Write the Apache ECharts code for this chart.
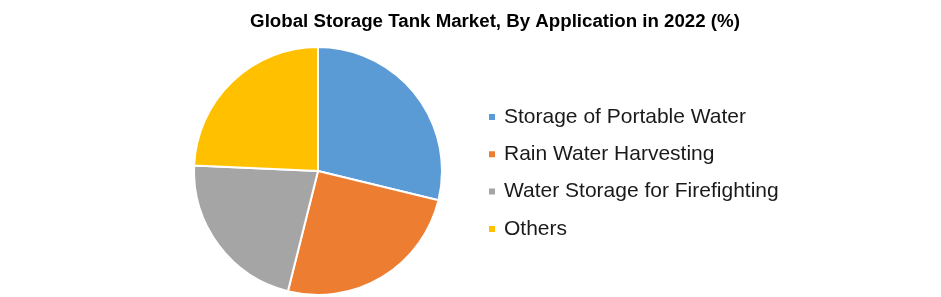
<!DOCTYPE html>
<html><head><meta charset="utf-8">
<script src="https://cdn.jsdelivr.net/npm/echarts@6/dist/echarts.min.js"></script>
<style>html,body{margin:0;padding:0;background:#fff}#c{width:941px;height:297px}</style>
</head><body><div id="c"></div>
<script>
const categories = ["Storage of Portable Water", "Rain Water Harvesting", "Water Storage for Firefighting", "Others"];
const values = [28.8, 25.1, 21.8, 24.3];
const colors = ["#5B9BD5", "#ED7D31", "#A5A5A5", "#FFC000"];
const titleText = "Global Storage Tank Market, By Application in 2022 (%)";

const chart = echarts.init(document.getElementById('c'), null, {renderer: 'canvas'});
chart.setOption({
  animation: false,
  backgroundColor: '#fff',
  title: {
    text: titleText,
    left: 490, textAlign: 'center', top: 7,
    textStyle: {fontFamily: '"Liberation Sans", Arial, sans-serif', fontWeight: 'bold', fontSize: 18.7, color: '#000'}
  },
  legend: {
    orient: 'vertical', left: 482, top: 100,
    itemWidth: 8, itemHeight: 8, itemGap: 13.3, icon: 'rect',
    textStyle: {fontFamily: '"Liberation Sans", Arial, sans-serif', fontSize: 21, lineHeight: 24, color: '#1a1a1a', padding: [0,0,0,3]},
    data: categories
  },
  series: [{
    type: 'pie', center: [318, 171], radius: 124, startAngle: 90, clockwise: true,
    label: {show: false}, labelLine: {show: false},
    itemStyle: {borderColor: '#fff', borderWidth: 2},
    data: categories.map((n, i) => ({name: n, value: values[i], itemStyle: {color: colors[i]}}))
  }]
});
</script></body></html>
